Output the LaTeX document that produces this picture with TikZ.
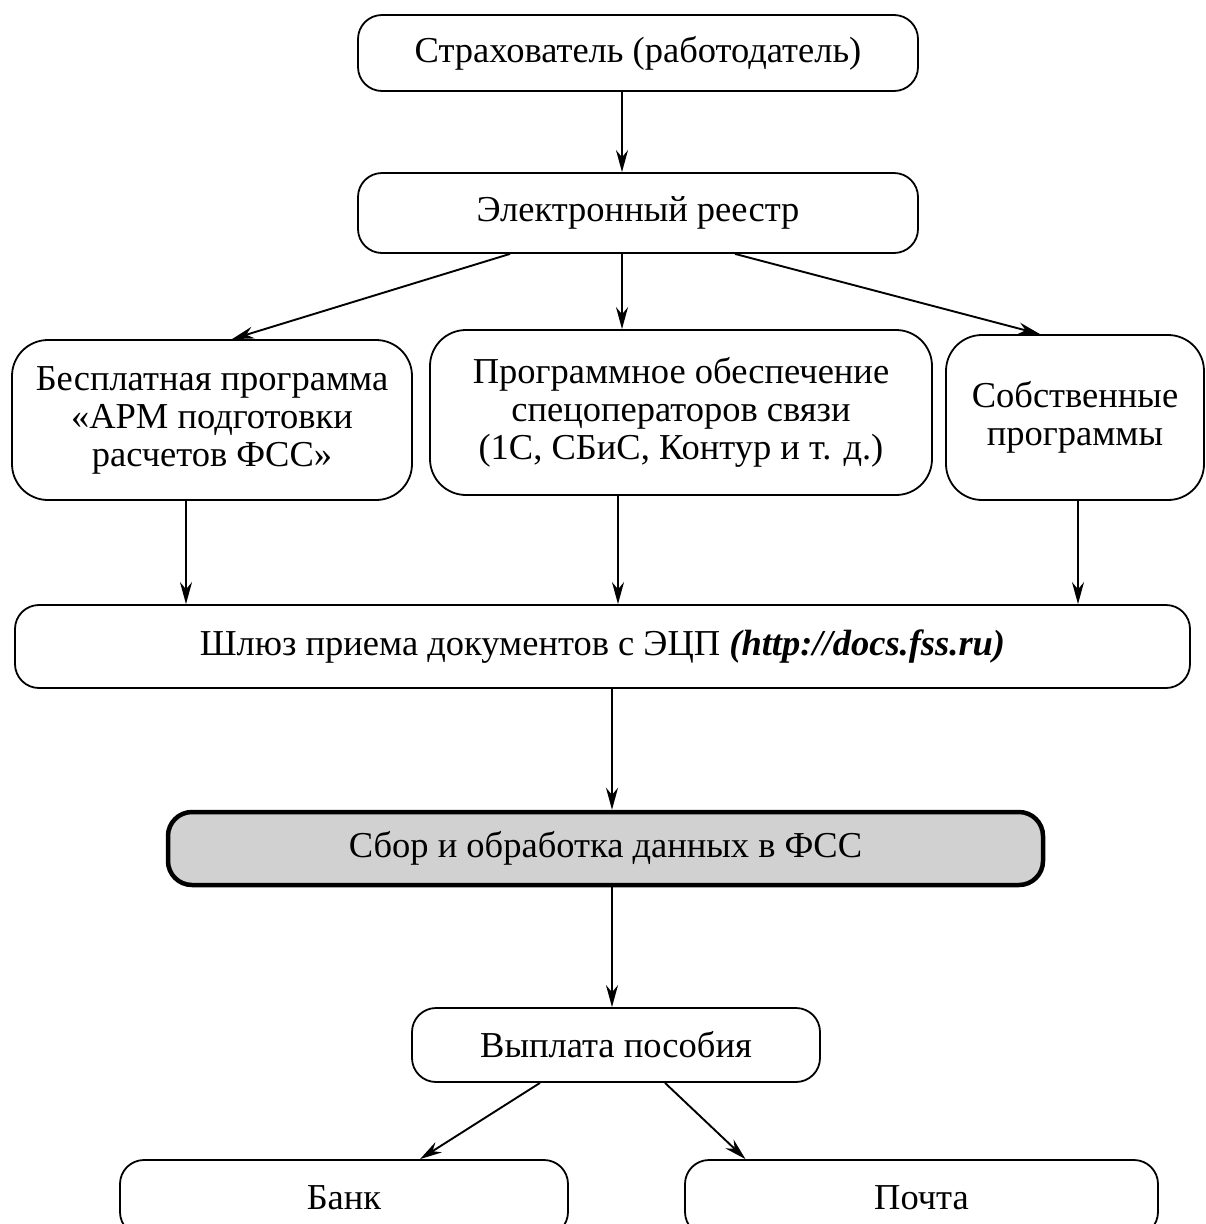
\documentclass[tikz,border=0pt]{standalone}
\usepackage{fontspec}
\setmainfont{Liberation Serif}
\usetikzlibrary{arrows.meta,calc}
\begin{document}
\begin{tikzpicture}[x=1pt,y=-1pt,
  box/.style={draw, line width=1.8pt, rounded corners=24pt, align=center,
    inner sep=0pt, font=\fontsize{36.5}{38}\selectfont},
  bigbox/.style={box, rounded corners=36pt},
  arr/.style={line width=1.9pt, -{Stealth[length=22pt,width=12pt]}}]
\useasboundingbox (0,0) rectangle (1206,1224);
\clip (0,0) rectangle (1206,1224);
\node[box, minimum width=560pt, minimum height=76pt] (s) at (638,53) {Страхователь (работодатель)};
\node[box, minimum width=560pt, minimum height=80pt] (e) at (638,213) {Электронный реестр};
\node[bigbox, minimum width=400pt, minimum height=160pt] (b1) at (212,420) {Бесплатная программа\\«АРМ подготовки\\расчетов ФСС»};
\node[bigbox, minimum width=502pt, minimum height=165pt] (b2) at (681,412.5) {Программное обеспечение\\спецоператоров связи\\(1С, СБиС, Контур и т. д.)};
\node[bigbox, minimum width=258pt, minimum height=165pt] (b3) at (1075,417.5) {Собственные\\программы};
\node[box, minimum width=1175pt, minimum height=83pt] (g) at (602.5,646.5) {Шлюз приема документов с ЭЦП \textbf{\textit{(http://docs.fss.ru)}}};
\node[box, line width=4.5pt, fill=black!18, minimum width=875pt, minimum height=73pt] (f) at (605.5,848.5) {Сбор и обработка данных в ФСС};
\node[box, minimum width=408pt, minimum height=74pt] (p) at (616,1045) {Выплата пособия};
\node[box, minimum width=448pt, minimum height=76pt] (bank) at (344,1198) {Банк};
\node[box, minimum width=473pt, minimum height=76pt] (post) at (921.5,1198) {Почта};
\draw[arr] ([xshift=-16pt]s.south) -- ([xshift=-16pt]s.south |- e.north);
\draw[arr] ([xshift=-128pt]e.south) -- ([xshift=20pt]b1.north);
\draw[arr] ([xshift=-16pt]e.south) -- ([xshift=-16pt]e.south |- b2.north);
\draw[arr] ([xshift=97pt]e.south) -- ([xshift=-35pt]b3.north);
\draw[arr] ([xshift=-26pt]b1.south) -- ([xshift=-26pt]b1.south |- g.north);
\draw[arr] ([xshift=-63pt]b2.south) -- ([xshift=-63pt]b2.south |- g.north);
\draw[arr] ([xshift=3pt]b3.south) -- ([xshift=3pt]b3.south |- g.north);
\draw[arr] ([xshift=9.5pt]g.south) -- ([xshift=9.5pt]g.south |- f.north);
\draw[arr] ([xshift=6.5pt]f.south) -- ([xshift=6.5pt]f.south |- p.north);
\draw[arr] ([xshift=-76pt]p.south) -- ([xshift=76pt]bank.north);
\draw[arr] ([xshift=49pt]p.south) -- ([xshift=-176pt]post.north);
\end{tikzpicture}
\end{document}
